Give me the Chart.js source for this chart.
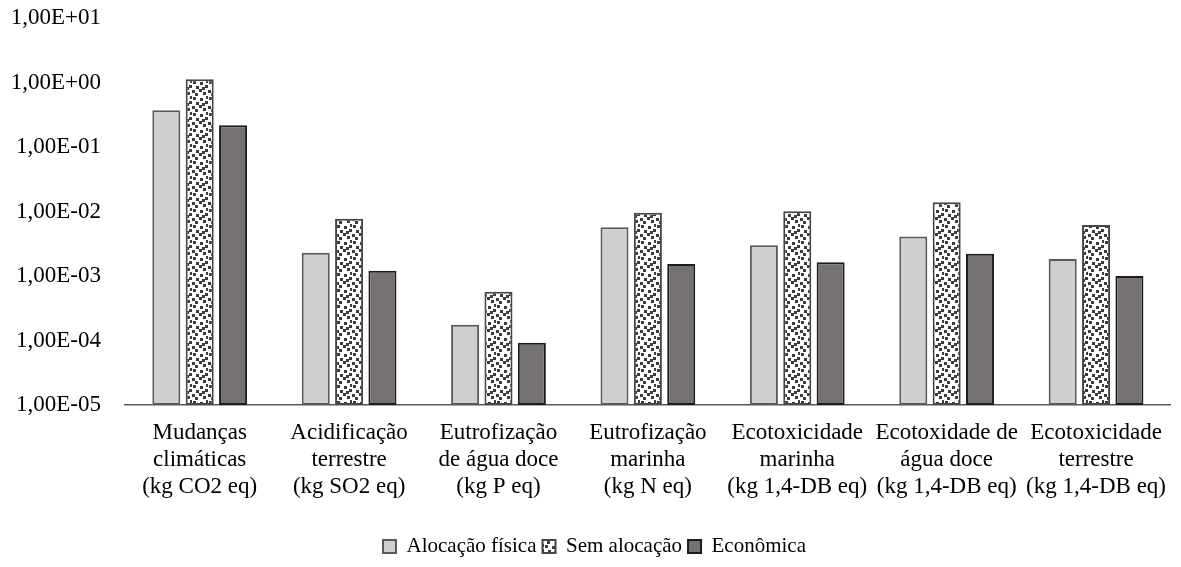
<!DOCTYPE html>
<html lang="pt-BR">
<head>
<meta charset="utf-8">
<title>Categorias de impacto</title>
<script src="https://cdn.jsdelivr.net/npm/chart.js@4/dist/chart.umd.min.js"></script>
<style>
  html, body { margin: 0; padding: 0; background: #ffffff; }
  #wrap { width: 1181px; height: 567px; }
</style>
</head>
<body>
<div id="wrap"><canvas id="impact-chart" width="1181" height="567"></canvas></div>
<script>
// Impact categories (multi-line axis labels)
const categories = [
  ['Mudanças', 'climáticas', '(kg CO2 eq)'],
  ['Acidificação', 'terrestre', '(kg SO2 eq)'],
  ['Eutrofização', 'de água doce', '(kg P eq)'],
  ['Eutrofização', 'marinha', '(kg N eq)'],
  ['Ecotoxicidade', 'marinha', '(kg 1,4-DB eq)'],
  ['Ecotoxidade de', 'água doce', '(kg 1,4-DB eq)'],
  ['Ecotoxicidade', 'terrestre', '(kg 1,4-DB eq)']
];

const seriesNames = ['Alocação física', 'Sem alocação', 'Econômica'];

const alocacaoFisica = [0.371, 0.0023, 0.000176, 0.0057, 0.0030, 0.0041, 0.00184];
const semAlocacao   = [1.12, 0.0077, 0.000571, 0.0096, 0.0101, 0.0139, 0.0062];
const economica     = [0.217, 0.00121, 0.0000925, 0.00153, 0.00163, 0.00222, 0.0010];

// powers of ten shown on the log axis
const yTicks = [1e-5, 1e-4, 1e-3, 1e-2, 1e-1, 1e0, 1e1];

const FONT = "'Liberation Serif', 'Times New Roman', serif";
const FONT_SIZE = 23;

// "1,00E-03" style labels
function formatSci(v) {
  const exp = Math.round(Math.log10(v));
  const sign = exp < 0 ? '-' : '+';
  const digits = String(Math.abs(exp)).padStart(2, '0');
  return '1,00E' + sign + digits;
}

// confetti fill for the middle series
function makeConfetti() {
  const tile = document.createElement('canvas');
  tile.width = 16;
  tile.height = 16;
  const g = tile.getContext('2d');
  g.fillStyle = '#ffffff';
  g.fillRect(0, 0, 16, 16);
  g.fillStyle = '#3c3c3c';
  const spots = [[1, 1], [8, 2], [13, 5], [4, 6], [0, 10], [7, 9], [11, 12], [3, 13], [14, 0], [10, 7]];
  spots.forEach(([x, y]) => g.fillRect(x, y, 3, 3));
  return g.createPattern(tile, 'repeat');
}

const ctx = document.getElementById('impact-chart').getContext('2d');
const confetti = makeConfetti();

const barStyle = {
  categoryPercentage: 0.67,
  barPercentage: 0.84,
  borderWidth: 2,
  borderSkipped: false
};

new Chart(ctx, {
  type: 'bar',
  data: {
    labels: categories,
    datasets: [
      { label: seriesNames[0], data: alocacaoFisica, backgroundColor: '#d0cece', borderColor: '#5a5a5a', ...barStyle },
      { label: seriesNames[1], data: semAlocacao, backgroundColor: confetti, borderColor: '#454545', ...barStyle },
      { label: seriesNames[2], data: economica, backgroundColor: '#767171', borderColor: '#1c1c1c', ...barStyle }
    ]
  },
  options: {
    responsive: false,
    animation: false,
    devicePixelRatio: 1,
    layout: { padding: { left: 8, right: 0, top: 18, bottom: 0 } },
    plugins: {
      tooltip: { enabled: false },
      legend: {
        position: 'bottom',
        labels: {
          color: '#000000',
          font: { family: FONT, size: 21 },
          boxWidth: 13,
          boxHeight: 13,
          padding: 6
        }
      }
    },
    scales: {
      x: {
        grid: { display: false, drawTicks: false },
        border: { display: true, color: '#595959', width: 1.5 },
        ticks: {
          color: '#000000',
          font: { family: FONT, size: FONT_SIZE, lineHeight: 1.16 },
          padding: 15,
          maxRotation: 0,
          autoSkip: false
        },
        afterFit: function(scale) { scale.height = 125; }
      },
      y: {
        type: 'logarithmic',
        min: 1e-5,
        max: 10,
        // invisible tick marks keep the gap between labels and bars
        grid: {
          display: true,
          drawOnChartArea: false,
          drawTicks: true,
          tickLength: 24,
          color: 'rgba(0,0,0,0)'
        },
        border: { display: false },
        afterBuildTicks: function(scale) {
          scale.ticks = yTicks.map(v => ({ value: v, major: false }));
        },
        afterFit: function(scale) { scale.width = 117; },
        ticks: {
          color: '#000000',
          font: { family: FONT, size: FONT_SIZE },
          padding: 0,
          autoSkip: false,
          callback: function(value) { return formatSci(value); }
        }
      }
    }
  }
});
</script>
</body>
</html>
